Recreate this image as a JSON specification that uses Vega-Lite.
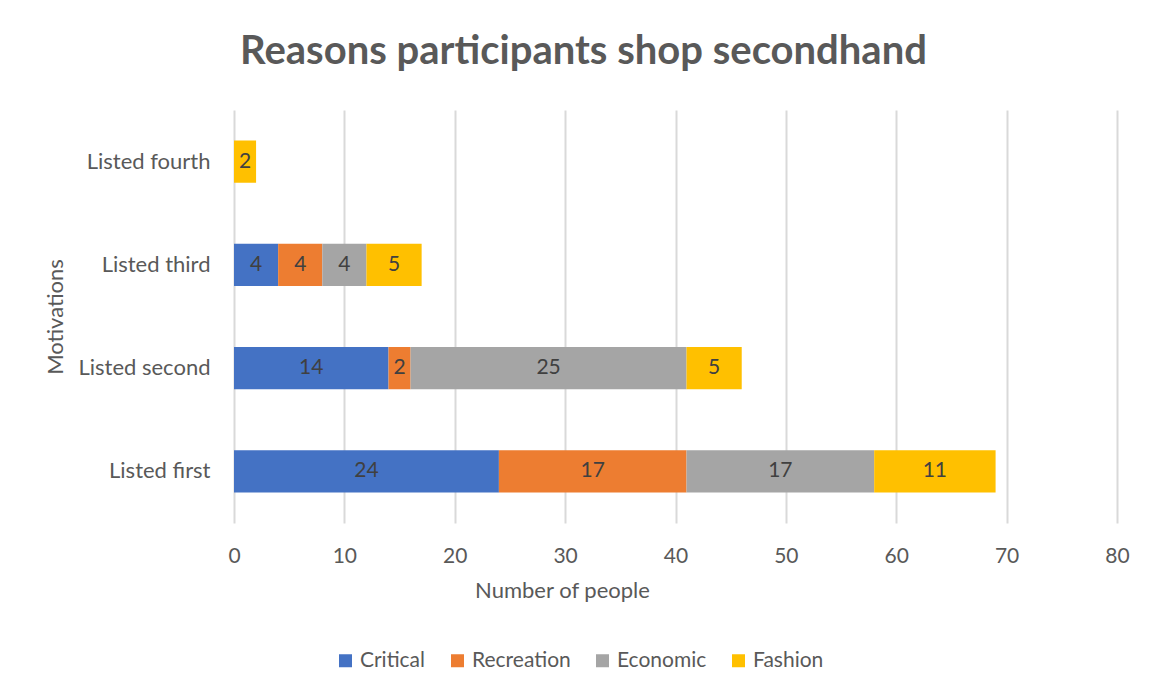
{
  "$schema": "https://vega.github.io/schema/vega-lite/v6.json",
  "autosize": "none",
  "padding": {"left": 234, "top": 110, "right": 34, "bottom": 175},
  "width": 883,
  "height": 413,
  "background": "white",
  "config": {"view": {"stroke": null}},
  "title": {
    "text": "Reasons participants shop secondhand",
    "font": "Lato",
    "fontSize": 40,
    "fontWeight": "bold",
    "color": "#595959",
    "dx": -92,
    "offset": 38
  },
  "data": {
    "values": [
      {"level": "Listed first", "motive": "Critical", "rank": 1, "count": 24},
      {"level": "Listed first", "motive": "Recreation", "rank": 2, "count": 17},
      {"level": "Listed first", "motive": "Economic", "rank": 3, "count": 17},
      {"level": "Listed first", "motive": "Fashion", "rank": 4, "count": 11},
      {"level": "Listed second", "motive": "Critical", "rank": 1, "count": 14},
      {"level": "Listed second", "motive": "Recreation", "rank": 2, "count": 2},
      {"level": "Listed second", "motive": "Economic", "rank": 3, "count": 25},
      {"level": "Listed second", "motive": "Fashion", "rank": 4, "count": 5},
      {"level": "Listed third", "motive": "Critical", "rank": 1, "count": 4},
      {"level": "Listed third", "motive": "Recreation", "rank": 2, "count": 4},
      {"level": "Listed third", "motive": "Economic", "rank": 3, "count": 4},
      {"level": "Listed third", "motive": "Fashion", "rank": 4, "count": 5},
      {"level": "Listed fourth", "motive": "Fashion", "rank": 4, "count": 2}
    ]
  },
  "transform": [
    {"stack": "count", "groupby": ["level"], "sort": [{"field": "rank", "order": "ascending"}], "as": ["x0", "x1"]}
  ],
  "encoding": {
    "y": {
      "field": "level",
      "type": "nominal",
      "sort": ["Listed fourth", "Listed third", "Listed second", "Listed first"],
      "scale": {"paddingInner": 0.59, "paddingOuter": 0.295},
      "axis": {
        "title": "Motivations",
        "titleFont": "Lato",
        "titleFontSize": 22,
        "titleFontWeight": "normal",
        "titleColor": "#595959",
        "titlePadding": 10,
        "labelFont": "Lato",
        "labelFontSize": 22,
        "labelColor": "#595959",
        "labelPadding": 24,
        "domain": false,
        "ticks": false,
        "grid": false
      }
    }
  },
  "layer": [
    {
      "mark": {"type": "bar"},
      "encoding": {
        "x": {
          "field": "x0",
          "type": "quantitative",
          "scale": {"domain": [0, 80], "nice": false},
          "axis": {
            "title": "Number of people",
            "titleFont": "Lato",
            "titleFontSize": 22,
            "titleFontWeight": "normal",
            "titleColor": "#595959",
            "titlePadding": 14,
            "titleX": 328,
            "titleAlign": "center",
            "labelFont": "Lato",
            "labelFontSize": 21,
            "labelColor": "#595959",
            "labelPadding": 22,
            "labelFlush": false,
            "values": [0, 10, 20, 30, 40, 50, 60, 70, 80],
            "domain": false,
            "ticks": false,
            "grid": true,
            "gridColor": "#d9d9d9",
            "gridWidth": 2
          }
        },
        "x2": {"field": "x1"},
        "color": {
          "field": "motive",
          "type": "nominal",
          "scale": {
            "domain": ["Critical", "Recreation", "Economic", "Fashion"],
            "range": ["#4472C4", "#ED7D31", "#A5A5A5", "#FFC000"]
          },
          "legend": {
            "title": null,
            "orient": "none",
            "direction": "horizontal",
            "columns": 4,
            "legendX": 101,
            "legendY": 540,
            "symbolType": "square",
            "symbolSize": 169,
            "symbolStrokeWidth": 0,
            "labelFont": "Lato",
            "labelFontSize": 21,
            "labelColor": "#595959",
            "labelOffset": 4,
            "columnPadding": 21
          }
        }
      }
    },
    {
      "transform": [{"calculate": "(datum.x0 + datum.x1) / 2", "as": "mid"}],
      "mark": {"type": "text", "font": "Lato", "fontSize": 21, "color": "#404040"},
      "encoding": {
        "x": {"field": "mid", "type": "quantitative"},
        "text": {"field": "count", "type": "quantitative"}
      }
    }
  ]
}
